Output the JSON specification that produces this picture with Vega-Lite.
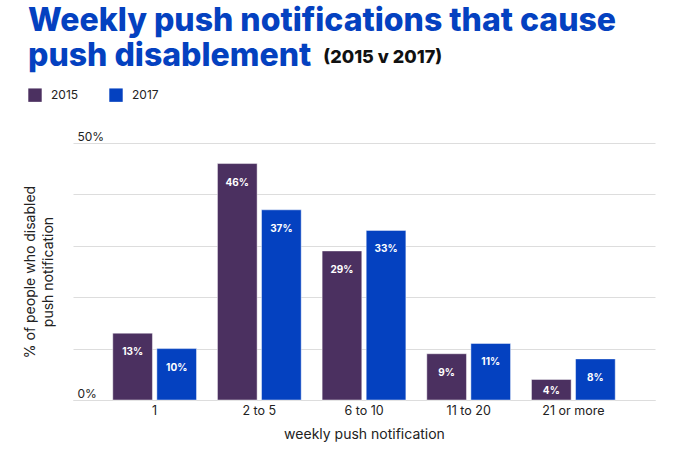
{
  "$schema": "https://vega.github.io/schema/vega-lite/v6.json",
  "autosize": "none",
  "width": 582,
  "height": 257,
  "padding": {"left": 73, "top": 143, "right": 45, "bottom": 49},
  "background": "white",
  "title": {
    "text": ["Weekly push notifications that cause", "push disablement"],
    "subtitle": "\u200b\u00a0\u00a0\u00a0\u00a0\u00a0\u00a0\u00a0\u00a0\u00a0\u00a0\u00a0\u00a0\u00a0\u00a0\u00a0\u00a0\u00a0\u00a0\u00a0\u00a0\u00a0\u00a0\u00a0\u00a0\u00a0\u00a0\u00a0\u00a0\u00a0\u00a0\u00a0\u00a0\u00a0\u00a0\u00a0\u00a0\u00a0\u00a0\u00a0\u00a0\u00a0\u00a0\u00a0\u00a0\u00a0\u00a0\u00a0\u00a0\u00a0\u00a0\u00a0\u00a0\u00a0\u00a0\u00a0\u00a0\u00a0\u00a0\u00a0\u00a0\u00a0\u00a0\u00a0\u00a0\u00a0\u00a0\u00a0\u00a0\u00a0\u00a0\u00a0\u00a0\u00a0\u00a0\u00a0(2015 v 2017)",
    "anchor": "start",
    "frame": "group",
    "dx": -45,
    "font": "Inter",
    "fontSize": 32,
    "fontWeight": 800,
    "color": "#0441c0",
    "lineHeight": 35,
    "subtitleFont": "Inter",
    "subtitleFontSize": 18,
    "subtitleFontWeight": 800,
    "subtitleColor": "#111111",
    "subtitlePadding": -24,
    "offset": 15
  },
  "data": {
    "values": [
      {"category": "1", "year": "2015", "value": 0.13},
      {"category": "1", "year": "2017", "value": 0.10},
      {"category": "2 to 5", "year": "2015", "value": 0.46},
      {"category": "2 to 5", "year": "2017", "value": 0.37},
      {"category": "6 to 10", "year": "2015", "value": 0.29},
      {"category": "6 to 10", "year": "2017", "value": 0.33},
      {"category": "11 to 20", "year": "2015", "value": 0.09},
      {"category": "11 to 20", "year": "2017", "value": 0.11},
      {"category": "21 or more", "year": "2015", "value": 0.04},
      {"category": "21 or more", "year": "2017", "value": 0.08}
    ]
  },
  "encoding": {
    "x": {
      "field": "category",
      "type": "nominal",
      "sort": null,
      "scale": {"paddingInner": 0.2, "paddingOuter": 0.38},
      "axis": {
        "title": "weekly push notification",
        "labelAngle": 0,
        "labelFont": "Inter",
        "labelFontSize": 12.5,
        "labelColor": "#222222",
        "labelPadding": 4,
        "ticks": false,
        "domainColor": "#dddddd",
        "titleFont": "Inter",
        "titleFontSize": 14,
        "titleFontWeight": "normal",
        "titleColor": "#222222",
        "titlePadding": 11
      }
    },
    "xOffset": {
      "field": "year",
      "type": "nominal",
      "scale": {"paddingInner": 0.1}
    },
    "y": {
      "field": "value",
      "type": "quantitative",
      "scale": {"domain": [0, 0.5], "nice": false},
      "axis": {
        "title": ["% of people who disabled", "push notification"],
        "values": [0, 0.1, 0.2, 0.3, 0.4, 0.5],
        "format": ".0%",
        "labelExpr": "datum.value == 0 || datum.value == 0.5 ? datum.label : ''",
        "labelAlign": "left",
        "labelBaseline": "bottom",
        "labelPadding": -4,
        "ticks": false,
        "domain": false,
        "gridColor": "#dddddd",
        "labelFont": "Inter",
        "labelFontSize": 12,
        "labelColor": "#222222",
        "titleFont": "Inter",
        "titleFontSize": 14,
        "titleLineHeight": 18,
        "titleFontWeight": "normal",
        "titleColor": "#222222",
        "titlePadding": 18
      }
    }
  },
  "layer": [
    {
      "mark": {"type": "bar", "stroke": "white", "strokeWidth": 1, "strokeOpacity": 0.45},
      "encoding": {
        "color": {
          "field": "year",
          "type": "nominal",
          "scale": {"domain": ["2015", "2017"], "range": ["#4b3060", "#0441c0"]},
          "legend": {
            "title": null,
            "orient": "none",
            "direction": "horizontal",
            "legendX": -45,
            "legendY": -55,
            "symbolType": "square",
            "symbolSize": 180,
            "symbolStrokeWidth": 0,
            "labelFont": "Inter",
            "labelFontSize": 12,
            "labelColor": "#222222",
            "columnPadding": 30,
            "labelOffset": 9
          }
        }
      }
    },
    {
      "mark": {"type": "text", "color": "white", "font": "Inter", "fontWeight": "bold", "fontSize": 10, "dy": {"expr": "datum.value < 0.05 ? 12 : 19"}, "baseline": "middle"},
      "encoding": {
        "text": {"field": "value", "type": "quantitative", "format": ".0%"}
      }
    }
  ],
  "config": {"view": {"stroke": null}}
}
